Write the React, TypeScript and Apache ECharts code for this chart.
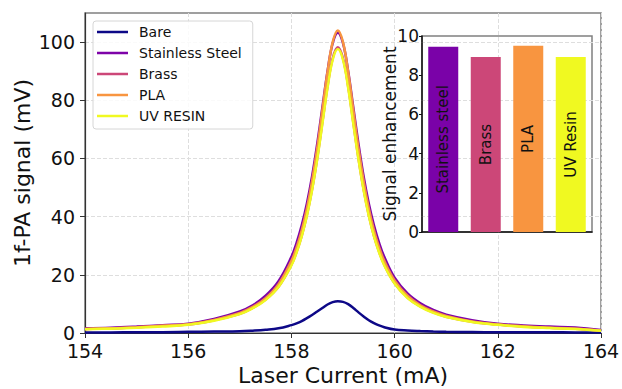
import React, { useEffect, useRef } from 'react';
import * as echarts from 'echarts';

// Laser current (mA) sample positions
const currents = [154, 154.5, 155, 155.5, 156, 156.5, 157, 157.25, 157.5, 157.75, 158, 158.1, 158.2, 158.3, 158.4, 158.5, 158.6, 158.7, 158.8, 158.9, 159, 159.1, 159.2, 159.3, 159.4, 159.5, 159.6, 159.7, 159.8, 160, 160.25, 160.5, 160.75, 161, 161.5, 162, 162.5, 163, 163.5, 164];

// 1f-PA signal (mV)
const bare = [0.2, 0.2, 0.3, 0.3, 0.4, 0.5, 0.6, 0.8, 1.1, 1.6, 2.7, 3.3, 4.1, 5.1, 6.2, 7.4, 8.6, 9.8, 10.6, 10.9, 10.7, 9.9, 8.6, 7.1, 5.7, 4.4, 3.4, 2.6, 2.0, 1.2, 0.85, 0.65, 0.5, 0.42, 0.33, 0.28, 0.25, 0.24, 0.2, 0.15];
const stainless = [1.6, 1.8, 2.2, 2.7, 3.2, 4.8, 7.4, 9.5, 12.8, 17.8, 26.2, 31.0, 37.0, 44.5, 53.8, 65.0, 77.5, 90.0, 99.6, 103.2, 99.6, 90.0, 77.5, 65.0, 53.8, 44.5, 37.0, 31.0, 26.2, 19.0, 13.6, 10.2, 7.9, 6.3, 4.4, 3.2, 2.6, 2.2, 1.9, 1.0];
const brass = [1.4, 1.6, 2.0, 2.5, 2.9, 4.4, 6.6, 8.6, 11.5, 15.9, 23.5, 27.9, 33.4, 40.5, 49.3, 60.0, 72.3, 84.7, 94.4, 98.2, 94.4, 84.7, 72.3, 60.0, 49.3, 40.5, 33.4, 27.9, 23.5, 17.1, 12.2, 9.1, 7.1, 5.6, 3.9, 2.9, 2.2, 1.8, 1.5, 0.8];
const pla = [1.4, 1.6, 2.0, 2.5, 3.0, 4.5, 6.9, 9.0, 12.0, 16.8, 24.8, 29.4, 35.3, 42.8, 52.2, 63.5, 76.6, 89.7, 100.0, 104.0, 100.0, 89.7, 76.6, 63.5, 52.2, 42.8, 35.3, 29.4, 24.8, 18.1, 12.8, 9.5, 7.4, 5.9, 4.0, 2.9, 2.3, 1.8, 1.5, 0.8];
const uvResin = [1.3, 1.5, 1.8, 2.2, 2.8, 4.2, 6.5, 8.5, 11.3, 15.8, 23.2, 27.6, 33.2, 40.2, 49.0, 59.6, 71.8, 84.2, 93.9, 97.6, 93.9, 84.2, 71.8, 59.6, 49.0, 40.2, 33.2, 27.6, 23.2, 17.0, 12.0, 9.0, 6.9, 5.5, 3.8, 2.8, 2.1, 1.7, 1.4, 0.8];

const seriesNames = ['Bare', 'Stainless Steel', 'Brass', 'PLA', 'UV RESIN'];
const seriesColors = ['#0d0887', '#7e03a8', '#cc4778', '#f89540', '#f0f921'];

// Inset: signal enhancement
const barCategories = ['Stainless steel', 'Brass', 'PLA', 'UV Resin'];
const barValues = [9.45, 8.93, 9.5, 8.93];
const barColors = ['#7a02a8', '#cc4778', '#f89540', '#f0f921'];

const mainYTicks = [0, 20, 40, 60, 80, 100];

export default function App() {
  const ref = useRef<HTMLDivElement>(null);

  useEffect(() => {
    if (!ref.current) return;
    const chart = echarts.init(ref.current, null, { renderer: 'svg' });
    const font = 'DejaVu Sans';
    const seriesData = [bare, stainless, brass, pla, uvResin];

    chart.setOption({
      animation: false,
      textStyle: { fontFamily: font },
      grid: [
        {
          left: 85, top: 13, width: 516, height: 320,
          outerBoundsMode: 'none', containLabel: false,
          show: true, borderColor: '#808080', borderWidth: 1.5, backgroundColor: 'transparent',
        },
        {
          left: 422, top: 36, width: 170, height: 196,
          outerBoundsMode: 'none', containLabel: false,
          show: true, borderColor: '#808080', borderWidth: 1.5, backgroundColor: 'transparent',
        },
      ],
      legend: {
        left: 93, top: 21, orient: 'vertical',
        icon: 'rect',
        itemWidth: 31, itemHeight: 2.5, itemGap: 7,
        padding: [4, 11, 6, 4],
        backgroundColor: 'rgba(255,255,255,0.85)',
        borderColor: '#d6d6d6', borderWidth: 1, borderRadius: 3,
        textStyle: { fontSize: 14, lineHeight: 14, color: '#111', fontFamily: font, padding: [0, 0, 0, 6] },
        data: seriesNames,
      },
      xAxis: [
        {
          type: 'value', gridIndex: 0, min: 154, max: 164, interval: 2,
          name: 'Laser Current (mA)', nameLocation: 'middle', nameGap: 31, nameMoveOverlap: false,
          nameTextStyle: { fontSize: 22, color: '#111', fontFamily: font },
          axisLine: { show: true, onZero: false, lineStyle: { color: '#333', width: 1.2 } },
          axisTick: { show: true, length: 5, lineStyle: { color: '#333' } },
          axisLabel: { fontSize: 19, color: '#111', margin: 8, fontFamily: font },
          splitLine: { show: true, lineStyle: { type: 'dashed', color: '#dedede', width: 1 } },
        },
        {
          type: 'category', gridIndex: 1, data: barCategories,
          axisLabel: { show: false }, axisTick: { show: false },
          axisLine: { show: true, lineStyle: { color: '#111', width: 1.5 } },
          splitLine: { show: false },
        },
      ],
      yAxis: [
        {
          type: 'value', gridIndex: 0, min: 0, max: 110, interval: 20,
          name: '1f-PA signal (mV)', nameLocation: 'middle', nameGap: 52, nameMoveOverlap: false,
          nameTextStyle: { fontSize: 22, color: '#111', fontFamily: font },
          axisLine: { show: true, lineStyle: { color: '#333', width: 1.2 } },
          axisTick: { show: true, length: 5, lineStyle: { color: '#333' }, customValues: mainYTicks },
          axisLabel: {
            fontSize: 19, color: '#111', margin: 10, fontFamily: font,
            customValues: mainYTicks,
            formatter: (v: number) => (v % 20 === 0 ? String(v) : ''),
          },
          splitLine: { show: true, lineStyle: { type: 'dashed', color: '#dedede', width: 1 } },
        },
        {
          type: 'value', gridIndex: 1, min: 0, max: 10, interval: 2,
          name: 'Signal enhancement', nameLocation: 'middle', nameGap: 24, nameMoveOverlap: false,
          nameTextStyle: { fontSize: 17, color: '#111', fontFamily: font },
          axisLine: { show: true, lineStyle: { color: '#111', width: 1.5 } },
          axisTick: { show: true, length: 3, lineStyle: { color: '#111' } },
          axisLabel: { fontSize: 17, color: '#111', margin: 3, fontFamily: font },
          splitLine: { show: false },
        },
      ],
      series: [
        ...seriesNames.map((name, i) => ({
          type: 'line',
          name,
          xAxisIndex: 0,
          yAxisIndex: 0,
          data: currents.map((x, j) => [x, seriesData[i][j]]),
          symbol: 'none',
          smooth: 0.4,
          lineStyle: { width: 2.5, color: seriesColors[i] },
          itemStyle: { color: seriesColors[i] },
          z: 3 + i,
        })),
        {
          type: 'bar',
          name: 'Signal enhancement',
          xAxisIndex: 1,
          yAxisIndex: 1,
          barWidth: 30,
          data: barValues.map((v, i) => ({ value: v, itemStyle: { color: barColors[i] } })),
          label: {
            show: true, position: 'inside', rotate: 90,
            formatter: (p: any) => p.name,
            fontSize: 15, color: '#111', fontFamily: font,
          },
          z: 10,
        },
      ],
    });

    return () => chart.dispose();
  }, []);

  return <div ref={ref} style={{ position: 'absolute', left: 0, top: 0, width: 622, height: 389 }} />;
}
